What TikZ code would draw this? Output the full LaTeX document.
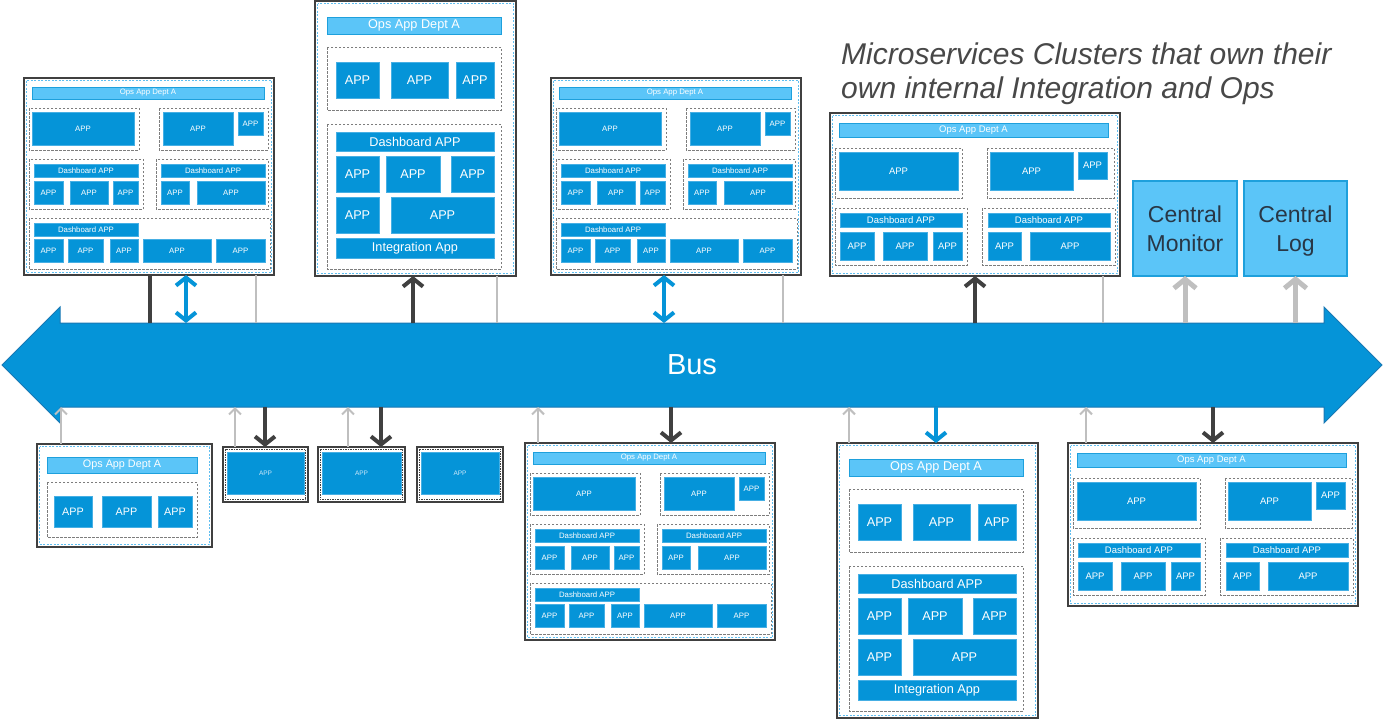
\documentclass[tikz,border=0pt]{standalone}
\usepackage{fontspec}
\setmainfont{Liberation Sans}
\usetikzlibrary{arrows.meta}
\definecolor{appblue}{RGB}{5,148,216}
\definecolor{appedge}{RGB}{70,175,228}
\definecolor{hdrblue}{RGB}{91,197,248}
\definecolor{hdredge}{RGB}{30,160,220}
\definecolor{dkgray}{RGB}{64,64,64}
\definecolor{lgray}{RGB}{191,191,191}
\definecolor{grpgray}{RGB}{125,125,125}
\definecolor{innerblue}{RGB}{95,190,240}
\definecolor{busedge}{RGB}{25,120,180}
\definecolor{titlegray}{RGB}{72,72,72}
\definecolor{centraltext}{RGB}{40,55,70}
\definecolor{sgltext}{RGB}{205,232,250}
\newcounter{bxn}
\newcommand\bx[6]{\stepcounter{bxn}\node[#1, minimum width={(#4)-(#2)}, minimum height={(#5)-(#3)}] (bx\thebxn) at ({((#2)+(#4))/2},{((#3)+(#5))/2}) {#6};}
\newcommand\ap[5]{\bx{app,#1}{#2}{#3}{#4}{#5}{APP}}
\newcommand\clusterL[3]{%
\begin{scope}[shift={(#2,#3)}]
\node[outer, minimum width=250, minimum height=197] (#1) at (125,98.5) {};
\draw[innerb] (2.5,2.5) rectangle (247.5,194.5);
\bx{hdr,fL}{8}{9}{240}{21}{Ops App Dept A}
\draw[grp] (5,30) rectangle (115,72);
\ap{fL}{8}{34}{110}{67}
\draw[grp] (135,30) rectangle (244,72);
\ap{fL}{139}{34}{209}{67}
\ap{fL}{214}{34}{239}{57}
\draw[grp] (5,81) rectangle (119,131);
\bx{app,fL}{10}{86}{114}{99}{Dashboard APP}
\ap{fL}{10}{103}{39}{126}\ap{fL}{46}{103}{84}{126}\ap{fL}{89}{103}{114}{126}
\draw[grp] (132,81) rectangle (244,131);
\bx{app,fL}{137}{86}{241}{99}{Dashboard APP}
\ap{fL}{137}{103}{165}{126}\ap{fL}{173}{103}{241}{126}
\draw[grp] (5,140) rectangle (246,191);
\bx{app,fL}{10}{145}{114}{158}{Dashboard APP}
\ap{fL}{10}{161}{39}{184}\ap{fL}{44}{161}{79}{184}\ap{fL}{86}{161}{114}{184}\ap{fL}{119}{161}{187}{184}\ap{fL}{192}{161}{241}{184}
\end{scope}}
\newcommand\clusterM[3]{%
\begin{scope}[shift={(#2,#3)}]
\node[outer, minimum width=290, minimum height=163] (#1) at (145,81.5) {};
\draw[innerb] (2.5,2.5) rectangle (287.5,160.5);
\bx{hdr,fM}{9}{10}{278}{24}{Ops App Dept A}
\draw[grp] (5,35) rectangle (132,85);
\ap{fM}{9}{39}{128}{77}
\draw[grp] (157,35) rectangle (284,85);
\ap{fM}{160}{39}{243}{77}
\ap{fM}{248}{39}{277}{66}
\draw[grp] (5,95) rectangle (137,152);
\bx{app,fM}{10}{100}{132}{114}{Dashboard APP}
\ap{fM}{10}{119}{44}{147}\ap{fM}{53}{119}{97}{147}\ap{fM}{103}{119}{132}{147}
\draw[grp] (152,95) rectangle (285,152);
\bx{app,fM}{158}{100}{280}{114}{Dashboard APP}
\ap{fM}{158}{119}{191}{147}\ap{fM}{200}{119}{280}{147}
\end{scope}}
\newcommand\clusterT[3]{%
\begin{scope}[shift={(#2,#3)}]
\node[outer, minimum width=201, minimum height=275] (#1) at (100.5,137.5) {};
\draw[innerb] (2.5,2.5) rectangle (198.5,272.5);
\bx{hdr,fT}{12}{16}{186}{33}{Ops App Dept A}
\draw[grp] (12,46) rectangle (186,109);
\ap{fT}{21}{61}{64}{97}\ap{fT}{76}{61}{133}{97}\ap{fT}{141}{61}{179}{97}
\draw[grp] (12,123) rectangle (186,268);
\bx{app,fT}{21}{131}{179}{150}{Dashboard APP}
\ap{fT}{21}{155}{64}{191}\ap{fT}{71}{155}{125}{191}\ap{fT}{136}{155}{179}{191}
\ap{fT}{21}{196}{64}{232}\ap{fT}{76}{196}{179}{232}
\bx{app,fT}{21}{237}{179}{257}{Integration App}
\end{scope}}
\newcommand\single[5]{%
\node[sgl, minimum width={(#4)-(#2)}, minimum height={(#5)-(#3)}] (#1) at ({((#2)+(#4))/2},{((#3)+(#5))/2}) {};
\draw[sgldash] ({(#2)+2.2},{(#3)+2.2}) rectangle ({(#4)-2.2},{(#5)-2.2});
\bx{app,fX}{(#2)+4}{(#3)+5}{(#4)-4}{(#5)-8}{APP}}
\tikzset{
 app/.style={draw=appedge, fill=appblue, line width=0.6pt, inner sep=0pt, outer sep=0pt, text=white},
 hdr/.style={draw=hdredge, fill=hdrblue, line width=0.6pt, inner sep=0pt, outer sep=0pt, text=white},
 fL/.style={font=\fontsize{7.8}{9}\selectfont},
 fM/.style={font=\fontsize{9.5}{11}\selectfont},
 fT/.style={font=\fontsize{12.7}{14}\selectfont},
 fS/.style={font=\fontsize{10.8}{12}\selectfont},
 fX/.style={font=\fontsize{6.5}{7}\selectfont, text=sgltext},
 grp/.style={draw=grpgray, line width=0.8pt, dash pattern=on 2.5pt off 1.5pt},
 outer/.style={draw=dkgray, line width=1.5pt, fill=white, inner sep=0pt, outer sep=0pt},
 innerb/.style={draw=innerblue, line width=0.8pt, dash pattern=on 2pt off 1.5pt},
 sgl/.style={draw=dkgray, line width=1.6pt, fill=white, inner sep=0pt, outer sep=0pt},
 sgldash/.style={draw=dkgray, line width=1.2pt, dash pattern=on 1.5pt off 1pt},
 central/.style={draw=hdredge, line width=1.2pt, fill=hdrblue, inner sep=0pt, outer sep=0pt, align=center, text=centraltext, font=\fontsize{23}{29}\selectfont},
 bustext/.style={inner sep=0pt, outer sep=0pt, text=white, font=\fontsize{29}{32}\selectfont},
 ttl/.style={anchor=base west, inner sep=0pt, text=titlegray, font=\fontsize{30}{36}\selectfont\itshape},
 dkline/.style={draw=dkgray, line width=4pt},
 dkarr/.style={dkline, -{Straight Barb[length=8pt,width=20pt]}},
 gline/.style={draw=lgray, line width=2pt},
 garr/.style={gline, -{Straight Barb[length=6pt,width=12pt]}},
 gthick/.style={draw=lgray, line width=5pt, -{Straight Barb[length=9pt,width=22pt]}},
 bdbl/.style={draw=appblue, line width=4pt, {Straight Barb[length=8pt,width=20pt]}-{Straight Barb[length=8pt,width=20pt]}},
 barr/.style={draw=appblue, line width=4pt, -{Straight Barb[length=8pt,width=20pt]}},
}
\begin{document}
\begin{tikzpicture}[x=1pt,y=-1pt]
\useasboundingbox[fill=white] (0,0) rectangle (1384,720);
% bus
\fill[appblue, draw=busedge, line width=1pt] (2,365) -- (60,307) -- (60,323) -- (1324,323) -- (1324,307) -- (1382,365) -- (1324,423) -- (1324,407) -- (60,407) -- (60,423) -- cycle;
\node[bustext, minimum width=1264, minimum height=84] (bus) at (692,365) {Bus};
% title
\node[ttl] (title1) at (841,64) {Microservices Clusters that own their};
\node[ttl] (title2) at (841,98) {own internal Integration and Ops};
% clusters
\clusterL{c1}{24}{78}
\clusterT{t1}{315}{1}
\clusterL{c2}{551}{78}
\clusterM{m1}{830}{113}
\clusterL{c3}{525}{443}
\clusterT{t2}{837}{443}
\clusterM{m2}{1068}{443}
% small cluster
\begin{scope}[shift={(37,444)}]
\node[outer, minimum width=175, minimum height=103] (s1) at (87.5,51.5) {};
\draw[innerb] (2.5,2.5) rectangle (172.5,100.5);
\bx{hdr,fS}{10}{13}{160}{29}{Ops App Dept A}
\draw[grp] (10,38) rectangle (160,93);
\ap{fS}{17}{52}{55}{83}\ap{fS}{65}{52}{114}{83}\ap{fS}{121}{52}{155}{83}
\end{scope}
\single{a1}{223}{447}{308}{502}
\single{a2}{318}{447}{405}{502}
\single{a3}{417}{447}{503}{502}
% central
\node[central, minimum width=104, minimum height=95] (mon) at (1185,228.5) {\rule{0pt}{22.5pt}Central\\Monitor\vphantom{g}};
\node[central, minimum width=103, minimum height=95] (log) at (1295.5,228.5) {\rule{0pt}{22.5pt}Central\\Log};
% top connectors
\draw[dkline] (150,0 |- c1.south) -- (150,0 |- bus.north);
\draw[bdbl] (186,0 |- c1.south) -- (186,0 |- bus.north);
\draw[gline] (256,0 |- c1.south) -- (256,0 |- bus.north);
\draw[dkarr] (413,0 |- bus.north) -- (413,0 |- t1.south);
\draw[gline] (497,0 |- t1.south) -- (497,0 |- bus.north);
\draw[bdbl] (664,0 |- c2.south) -- (664,0 |- bus.north);
\draw[gline] (783,0 |- c2.south) -- (783,0 |- bus.north);
\draw[dkarr] (975,0 |- bus.north) -- (975,0 |- m1.south);
\draw[gline] (1103,0 |- m1.south) -- (1103,0 |- bus.north);
\draw[gthick] (mon.south |- bus.north) -- (mon.south);
\draw[gthick] (log.south |- bus.north) -- (log.south);
% bottom connectors
\draw[garr] (61,0 |- s1.north) -- (61,0 |- bus.south);
\draw[garr] (235,0 |- a1.north) -- (235,0 |- bus.south);
\draw[dkarr] (265,0 |- bus.south) -- (265,0 |- a1.north);
\draw[garr] (348,0 |- a2.north) -- (348,0 |- bus.south);
\draw[dkarr] (381,0 |- bus.south) -- (381,0 |- a2.north);
\draw[garr] (538,0 |- c3.north) -- (538,0 |- bus.south);
\draw[dkarr] (671,0 |- bus.south) -- (671,0 |- c3.north);
\draw[garr] (849,0 |- t2.north) -- (849,0 |- bus.south);
\draw[barr] (936,0 |- bus.south) -- (936,0 |- t2.north);
\draw[garr] (1086,0 |- m2.north) -- (1086,0 |- bus.south);
\draw[dkarr] (1213,0 |- bus.south) -- (1213,0 |- m2.north);
\end{tikzpicture}
\end{document}
